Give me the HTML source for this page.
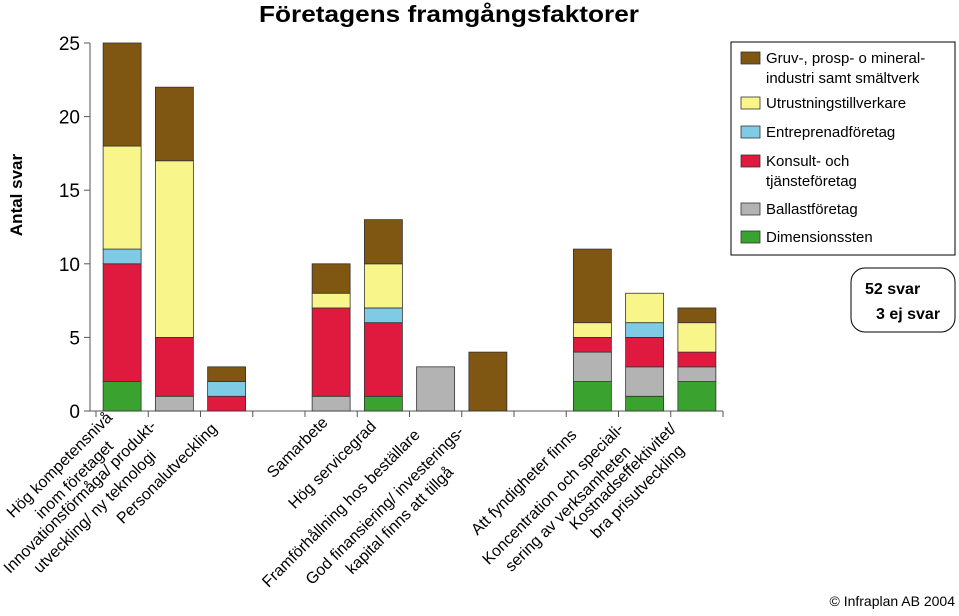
<!DOCTYPE html>
<html><head><meta charset="utf-8"><style>
body{margin:0;background:#fff;}
svg text{font-family:"Liberation Sans",sans-serif;}
</style></head><body>
<svg width="959" height="611" viewBox="0 0 959 611">
<text x="449" y="22" text-anchor="middle" font-size="23" font-weight="bold" textLength="380" lengthAdjust="spacingAndGlyphs">Företagens framgångsfaktorer</text>
<text transform="translate(22,195) rotate(-90)" text-anchor="middle" font-size="17" font-weight="bold">Antal svar</text>
<g id="plot"></g>
<g>
<rect x="731" y="42" width="224" height="213" fill="#fff" stroke="#000" stroke-width="1"/>
</g>
<g id="leg"></g>
<g>
<rect x="851" y="268" width="104" height="64" rx="14" fill="#fff" stroke="#000"/>
<text x="865" y="294" font-size="16" font-weight="bold">52 svar</text>
<text x="876" y="319" font-size="16" font-weight="bold">3 ej svar</text>
</g>
<text x="955" y="606" text-anchor="end" font-size="14">© Infraplan AB 2004</text>
</svg>
<script>
const categories=[["Hög kompetensnivå","inom företaget"],["Innovationsförmåga/ produkt-","utveckling/ ny teknologi"],["Personalutveckling"],[],["Samarbete"],["Hög servicegrad"],["Framförhållning hos beställare"],["God finansiering/ investerings-","kapital finns att tillgå"],[],["Att fyndigheter finns"],["Koncentration och speciali-","sering av verksamheten"],["Kostnadseffektivitet/","bra prisutveckling"]];
const seriesNames=["Dimensionssten","Ballastföretag","Konsult- och tjänsteföretag","Entreprenadföretag","Utrustningstillverkare","Gruv-, prosp- o mineralindustri samt smältverk"];
const colors=["#3aa32f","#b3b3b3","#e0193f","#7fcbe6","#f8f58a","#7f5612"];
const dimensionssten=[2,0,0,0,0,1,0,0,0,2,1,2];
const ballast=[0,1,0,0,1,0,3,0,0,2,2,1];
const konsult=[8,4,1,0,6,5,0,0,0,1,2,1];
const entreprenad=[1,0,1,0,0,1,0,0,0,0,1,0];
const utrustning=[7,12,0,0,1,3,0,0,0,1,2,2];
const gruv=[7,5,1,0,2,3,0,4,0,5,0,1];
const yTicks=[0,5,10,15,20,25];
const series=[dimensionssten,ballast,konsult,entreprenad,utrustning,gruv];
const NS="http://www.w3.org/2000/svg";
const xa=90,x0=96,x1=723,y0=411,y1=43,ymax=25;
const slot=(x1-x0)/categories.length;
const yS=v=>y0-(v/ymax)*(y0-y1);
const xC=i=>x0+slot*(i+0.5);
const g=document.getElementById('plot');
function mk(t,a,p){const e=document.createElementNS(NS,t);for(const k in a)e.setAttribute(k,a[k]);(p||g).appendChild(e);return e;}
yTicks.forEach(v=>{const t=mk('text',{x:80,y:yS(v)+7,'text-anchor':'end','font-size':19});t.textContent=v;


mk('line',{x1:xa-6,x2:xa,y1:yS(v),y2:yS(v),stroke:'#555'});});
mk('line',{x1:xa,x2:xa,y1:y1,y2:y0,stroke:'#555'});
mk('line',{x1:xa,x2:x1,y1:y0,y2:y0,stroke:'#555'});
for(let i=0;i<=categories.length;i++)mk('line',{x1:x0+slot*i,x2:x0+slot*i,y1:y0,y2:y0+6,stroke:'#555'});
categories.forEach((c,i)=>{let acc=0;
series.forEach((s,k)=>{const v=s[i];if(v>0){const r=mk('rect',{x:xC(i)-19,y:yS(acc+v),width:38,height:yS(acc)-yS(acc+v),fill:colors[k],stroke:'#333','stroke-width':0.8});

}acc+=v;});
if(c.length){const t=mk('text',{'text-anchor':'middle','font-size':16});


const w=(c.length===2?Math.max(c[0].length,c[1].length):c[0].length)*8.2;
c.forEach((line,j)=>{const ts=mk('tspan',{x:-w/2,dy:j?21:(c.length===2?-8:0)},t);ts.textContent=line;});
t.setAttribute('transform',`translate(${xC(i)-4},${y0+14}) rotate(-45)`);
}
});
const lg=document.getElementById('leg');
const legItems=[[5,["Gruv-, prosp- o mineral-","industri samt smältverk"]],[4,["Utrustningstillverkare"]],[3,["Entreprenadföretag"]],[2,["Konsult- och","tjänsteföretag"]],[1,["Ballastföretag"]],[0,["Dimensionssten"]]];
const ly=[58,103,132,161,209,237];
legItems.forEach(([k,lines],j)=>{const r=mk('rect',{x:741,y:ly[j]-6,width:19,height:12,fill:colors[k],stroke:'#333','stroke-width':0.8},lg);


lines.forEach((l,m)=>{const t=mk('text',{x:766,y:ly[j]+5+m*20,'font-size':15},lg);t.textContent=l;

});});
</script>
</body></html>
